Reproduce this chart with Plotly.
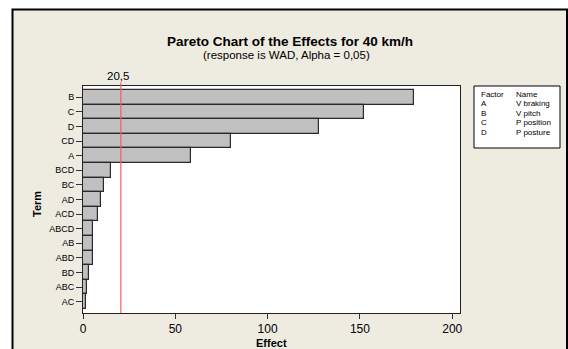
import plotly.graph_objects as go

terms = ["B", "C", "D", "CD", "A", "BCD", "BC", "AD", "ACD", "ABCD", "AB", "ABD", "BD", "ABC", "AC"]
effects = [179.5, 152.4, 127.8, 80.0, 58.5, 15.3, 11.6, 9.6, 8.0, 5.4, 5.3, 5.3, 3.4, 2.2, 1.6]
threshold = 20.5
x_ticks = [0, 50, 100, 150, 200]
factor_letters = ["A", "B", "C", "D"]
factor_names = ["V braking", "V pitch", "P position", "P posture"]

W, H = 568, 349
L, R, T, B = 83, 108, 86, 36
pw, ph = W - L - R, H - T - B

def px(x):
    return (x - L) / pw

def py(y):
    return (H - B - y) / ph

FONT = "Liberation Sans"
BEIGE = "#EEEBE1"

fig = go.Figure()
fig.add_trace(go.Bar(
    y=terms, x=effects, orientation="h",
    marker=dict(color="#C0C0C0", line=dict(color="#2a2a2a", width=1.2)),
    width=1.0, showlegend=False, hoverinfo="x+y",
))

shapes = [
    # outer beige frame
    dict(type="rect", xref="paper", yref="paper", x0=px(12.5), x1=px(567), y0=py(9.5), y1=py(360),
         fillcolor=BEIGE, line=dict(color="black", width=2), layer="below"),
    # white plot area
    dict(type="rect", xref="paper", yref="paper", x0=0, x1=1, y0=0, y1=1,
         fillcolor="white", line=dict(width=0), layer="below"),
    # threshold line
    dict(type="line", xref="x", yref="paper", x0=threshold, x1=threshold, y0=0, y1=py(82.5),
         line=dict(color="#FF5A5A", width=1.2)),
    # factor box
    dict(type="rect", xref="paper", yref="paper", x0=px(474), x1=px(560), y0=py(86), y1=py(148),
         fillcolor="white", line=dict(color="black", width=1)),
]

ann = [
    dict(text="<b>Pareto Chart of the Effects for 40 km/h</b>", x=px(290), y=py(41.5),
         font=dict(size=13.5, family=FONT, color="black")),
    dict(text="(response is WAD, Alpha = 0,05)", x=px(286), y=py(55),
         font=dict(size=11.5, family=FONT, color="black")),
    dict(text="20,5", x=threshold, xref="x", xshift=-3, y=py(76),
         font=dict(size=11.5, family=FONT, color="black")),
    dict(text="<b>Effect</b>", x=px(271), y=py(342.5),
         font=dict(size=11, family=FONT, color="black")),
    dict(text="<b>Term</b>", x=px(37), y=py(204), textangle=-90,
         font=dict(size=11, family=FONT, color="black")),
    dict(text="Factor", x=px(479), y=py(94.5), xanchor="left",
         font=dict(size=8, family=FONT, color="black")),
    dict(text="Name", x=px(514), y=py(94.5), xanchor="left",
         font=dict(size=8, family=FONT, color="black")),
]
row_y = [103.5, 113, 122.5, 132]
for letter, name, yy in zip(factor_letters, factor_names, row_y):
    ann.append(dict(text=letter, x=px(479), y=py(yy), xanchor="left",
                    font=dict(size=8, family=FONT, color="black")))
    ann.append(dict(text=name, x=px(514), y=py(yy), xanchor="left",
                    font=dict(size=8, family=FONT, color="black")))

for a in ann:
    a.setdefault("xref", "paper")
    a.setdefault("yref", "paper")
    a.setdefault("xanchor", "center")
    a.setdefault("yanchor", "middle")
    a["showarrow"] = False

fig.update_layout(
    width=W, height=H,
    margin=dict(l=L, r=R, t=T, b=B, pad=0),
    paper_bgcolor="white", plot_bgcolor="white",
    bargap=0,
    shapes=shapes, annotations=ann,
    xaxis=dict(range=[0, 204.2], tickvals=x_ticks, ticktext=[str(v) for v in x_ticks],
               showgrid=False, zeroline=False, showline=True, mirror=True,
               linecolor="#222", linewidth=1, ticks="outside", ticklen=5, tickcolor="#333",
               tickfont=dict(size=12, family=FONT, color="black")),
    yaxis=dict(categoryorder="array", categoryarray=terms, range=[14.77, -0.77],
               showgrid=False, zeroline=False, showline=True, mirror=True,
               linecolor="#222", linewidth=1, ticks="outside", ticklen=6, tickcolor="#333",
               tickfont=dict(size=9, family=FONT, color="black")),
    font=dict(family=FONT),
)

fig.write_html("out.html")
